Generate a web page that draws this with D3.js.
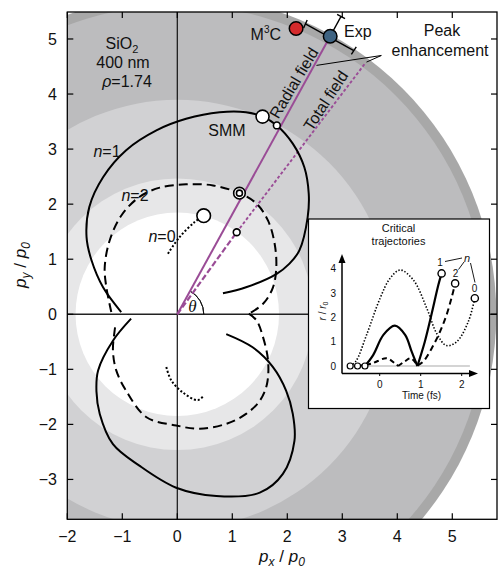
<!DOCTYPE html>
<html><head><meta charset="utf-8">
<script src="https://cdn.jsdelivr.net/npm/d3@7"></script>
<style>
body{margin:0;background:#fff}
svg{display:block}
text{font-family:"Liberation Sans",Arial,Helvetica,sans-serif;fill:#111}
</style>
</head><body>
<svg id="c" width="498" height="571"></svg>
<script>
// ---------- data ----------
const xTicks = [-2, -1, 0, 1, 2, 3, 4, 5];
const yTicks = [-3, -2, -1, 0, 1, 2, 3, 4, 5];
const bandRadii  = [5.8, 5.62, 3.9, 2.47, 1.85];
const bandColors = ["#a8a8a8", "#bcbcbe", "#d1d1d3", "#e7e7e8", "#ffffff"];

const n1Upper = [[-1.02,0.04],[-1.35,0.49],[-1.56,0.98],[-1.65,1.4],[-1.6,1.95],[-1.35,2.49],[-0.93,2.98],[-0.38,3.34],[0.16,3.55],[0.77,3.67],[1.25,3.67],[1.55,3.59],[1.81,3.43],[2.10,3.10],[2.31,2.67],[2.39,2.19],[2.37,1.76],[2.22,1.16],[2.04,0.92],[1.80,0.73],[1.25,0.49],[0.83,0.38]];
const n1Lower = [[-0.84,-0.08],[-1.17,-0.48],[-1.44,-1.02],[-1.47,-1.4],[-1.41,-1.81],[-1.17,-2.36],[-0.69,-2.75],[-0.02,-3.15],[0.71,-3.30],[1.50,-3.24],[1.92,-2.90],[2.13,-2.30],[2.10,-1.81],[1.98,-1.39],[1.74,-0.96],[1.37,-0.6],[0.89,-0.36]];
const n2Upper = [[-1.2,0.04],[-1.29,0.49],[-1.32,0.85],[-1.23,1.34],[-1.02,1.79],[-0.69,2.13],[-0.32,2.3],[0.16,2.36],[0.65,2.34],[1.13,2.2],[1.44,2.01],[1.65,1.70],[1.77,1.28],[1.80,0.85],[1.74,0.49],[1.56,0.19],[1.30,0.01]];
const n2Lower = [[1.30,0.01],[1.44,-0.11],[1.56,-0.42],[1.65,-0.84],[1.63,-1.27],[1.50,-1.57],[1.25,-1.81],[0.89,-1.99],[0.41,-2.08],[-0.02,-2.02],[-0.56,-1.87],[-0.93,-1.39],[-1.11,-1.02],[-1.17,-0.66],[-1.14,-0.3],[-1.12,-0.17]];
const n0Upper = [[-0.17,1.10],[0.04,1.40],[0.31,1.67],[0.48,1.79]];
const n0Lower = [[-0.2,-0.96],[-0.11,-1.2],[0.1,-1.42],[0.37,-1.56],[0.48,-1.48]];

const openCircles = [ // [px, py, radius(px)]
  [1.55,3.59,6.5],[1.81,3.43,3.4],[1.13,2.2,5.8],[1.13,2.2,3.0],[0.48,1.79,6.8],[1.08,1.49,3.4]
];
const expPoint = [2.78, 5.05];
const m3cPoint = [2.16, 5.19];
const totalEnd = [3.41, 4.55];
const totalBreak = [1.08, 1.49];
const expAngleErr = 5;      // degrees
const expRadialErr = 0.41;  // outward, units

// inset: critical trajectories  [time fs, r/r0]
const insetXTicks = [0, 1, 2];
const insetYTicks = [0, 1, 2, 3, 4];
const trajN0 = [[-0.72,0],[-0.58,0.2],[-0.32,1.28],[0.01,2.79],[0.25,3.6],[0.5,3.95],[0.82,3.54],[1.15,2.37],[1.39,1.34],[1.63,0.84],[1.88,1.0],[2.16,1.82],[2.32,2.79]];
const trajN1a = [[-0.36,0],[-0.16,0.45],[0.09,1.28],[0.37,1.66],[0.62,1.28],[0.78,0.59],[0.92,0]];
const trajN1b = [[0.92,0],[1.1,1.0],[1.27,2.17],[1.43,3.33],[1.51,3.81]];
const trajN2a = [[-0.54,0],[-0.2,0.1],[0.17,0.32],[0.37,0.11],[0.45,0]];
const trajN2b = [[0.45,0],[0.62,0.2],[0.76,0.32],[0.92,0.02]];
const trajN2c = [[0.92,0.02],[1.06,0.18],[1.27,0.73],[1.47,1.41],[1.63,2.1],[1.76,2.85],[1.84,3.40]];
const insetStarts = [-0.72, -0.54, -0.36];

// ---------- layout ----------
const svg = d3.select("#c");
const L = 67.3, R = 497, T = 12, B = 519.3;
const x = d3.scaleLinear().domain([-2, 5.813]).range([L, R]);
const y = d3.scaleLinear().domain([-3.724, 5.49]).range([B, T]);
const ux = v => x(v) - x(0);
const purple = "#9a4c96";

svg.append("defs").append("clipPath").attr("id","clip")
  .append("rect").attr("x",L).attr("y",T).attr("width",R-L).attr("height",B-T);
const g = svg.append("g").attr("clip-path","url(#clip)");

// bands
bandRadii.forEach((r,i)=>{
  g.append("circle").attr("cx",x(0)).attr("cy",y(0)).attr("r",ux(r)).attr("fill",bandColors[i]);
});

// zero axes
g.append("line").attr("x1",x(0)).attr("x2",x(0)).attr("y1",T).attr("y2",B).attr("stroke","#111").attr("stroke-width",1.2);
g.append("line").attr("x1",L).attr("x2",R).attr("y1",y(0)).attr("y2",y(0)).attr("stroke","#222").attr("stroke-width",1.5);

// theta arc
const th = Math.atan2(expPoint[1], expPoint[0]);
const arc = d3.arc().innerRadius(26.5).outerRadius(26.5).startAngle(Math.PI/2 - th).endAngle(Math.PI/2);
g.append("path").attr("d",arc()).attr("transform",`translate(${x(0)},${y(0)})`).attr("fill","none").attr("stroke","#111").attr("stroke-width",1);
g.append("text").attr("x",192.5).attr("y",312).attr("font-size",17).attr("font-style","italic")
  .attr("text-anchor","middle").style("font-family","'Liberation Serif','DejaVu Serif',serif").text("θ");

// field lines
g.append("line").attr("x1",x(0)).attr("y1",y(0)).attr("x2",x(totalBreak[0])).attr("y2",y(totalBreak[1]))
  .attr("stroke",purple).attr("stroke-width",2.2).attr("stroke-dasharray","6,2.5");
g.append("line").attr("x1",x(totalBreak[0])).attr("y1",y(totalBreak[1])).attr("x2",x(totalEnd[0])).attr("y2",y(totalEnd[1]))
  .attr("stroke",purple).attr("stroke-width",1.9).attr("stroke-dasharray","3,2.2");
g.append("line").attr("x1",x(0)).attr("y1",y(0)).attr("x2",x(expPoint[0])).attr("y2",y(expPoint[1]))
  .attr("stroke",purple).attr("stroke-width",2);

// curves
const line = d3.line().x(d=>x(d[0])).y(d=>y(d[1])).curve(d3.curveCatmullRom.alpha(0.5));
function curve(data, dash){
  g.append("path").attr("d",line(data)).attr("fill","none").attr("stroke","#000")
   .attr("stroke-width",2).attr("stroke-dasharray",dash||null);
}
curve(n1Upper); curve(n1Lower);
curve(n2Upper,"9,5"); curve(n2Lower,"9,5");
curve(n0Upper,"2,2"); curve(n0Lower,"2,2");

// open circles
openCircles.forEach(c=>{
  g.append("circle").attr("cx",x(c[0])).attr("cy",y(c[1])).attr("r",c[2])
   .attr("fill","#fff").attr("stroke","#000").attr("stroke-width",1.6);
});

// Exp error bars
const rE = Math.hypot(expPoint[0], expPoint[1]);
const aE = Math.atan2(expPoint[1], expPoint[0]);
function pt(r,a){return [x(r*Math.cos(a)), y(r*Math.sin(a))];}
const eb = g.append("g").attr("stroke","#000").attr("stroke-width",1.4);
const a1 = aE - expAngleErr*Math.PI/180, a2 = aE + expAngleErr*Math.PI/180;
const P1 = pt(rE,a1), P2 = pt(rE,a2);
eb.append("line").attr("x1",P1[0]).attr("y1",P1[1]).attr("x2",P2[0]).attr("y2",P2[1]);
[a1,a2].forEach(a=>{
  const q1 = pt(rE-0.08,a), q2 = pt(rE+0.08,a);
  eb.append("line").attr("x1",q1[0]).attr("y1",q1[1]).attr("x2",q2[0]).attr("y2",q2[1]);
});
const Po = pt(rE+expRadialErr, aE), Pc = pt(rE, aE);
eb.append("line").attr("x1",Pc[0]).attr("y1",Pc[1]).attr("x2",Po[0]).attr("y2",Po[1]);
{
  const dx = -Math.sin(aE)*4.5, dy = -Math.cos(aE)*4.5;
  eb.append("line").attr("x1",Po[0]-dx).attr("y1",Po[1]-dy).attr("x2",Po[0]+dx).attr("y2",Po[1]+dy);
}
g.append("circle").attr("cx",x(m3cPoint[0])).attr("cy",y(m3cPoint[1])).attr("r",6.8)
  .attr("fill","#d42a2c").attr("stroke","#000").attr("stroke-width",1.5);
g.append("circle").attr("cx",x(expPoint[0])).attr("cy",y(expPoint[1])).attr("r",6.8)
  .attr("fill","#3e6382").attr("stroke","#000").attr("stroke-width",1.5);

// leader lines for Peak enhancement
g.append("path").attr("d",`M${x(2.53)},${y(4.52)}L${x(3.71)},${y(4.70)}L${x(3.44)},${y(4.58)}`)
  .attr("fill","none").attr("stroke","#000").attr("stroke-width",1);

// ---------- frame and ticks ----------
svg.append("rect").attr("x",L).attr("y",T).attr("width",R-L).attr("height",B-T)
  .attr("fill","none").attr("stroke","#000").attr("stroke-width",1.3);
const tk = svg.append("g").attr("stroke","#000").attr("stroke-width",1.2);
xTicks.forEach(v=>{
  tk.append("line").attr("x1",x(v)).attr("x2",x(v)).attr("y1",B).attr("y2",B-6);
  tk.append("line").attr("x1",x(v)).attr("x2",x(v)).attr("y1",T).attr("y2",T+6);
});
yTicks.forEach(v=>{
  tk.append("line").attr("x1",L).attr("x2",L+6).attr("y1",y(v)).attr("y2",y(v));
  tk.append("line").attr("x1",R).attr("x2",R-6).attr("y1",y(v)).attr("y2",y(v));
});
const fmt = v => (v<0?"\u2212":"")+Math.abs(v);
xTicks.forEach(v=>{
  svg.append("text").attr("x",x(v)).attr("y",542).attr("font-size",16).attr("text-anchor","middle").text(fmt(v));
});
yTicks.forEach(v=>{
  svg.append("text").attr("x",57).attr("y",y(v)+5.8).attr("font-size",16).attr("text-anchor","end").text(fmt(v));
});

// axis titles
function pLabel(sel, sub){
  sel.append("tspan").attr("font-style","italic").text("p");
  sel.append("tspan").attr("font-style","italic").attr("font-size",12).attr("dy",4).text(sub);
  sel.append("tspan").attr("dy",-4).text(" / ");
  sel.append("tspan").attr("font-style","italic").text("p");
  sel.append("tspan").attr("font-style","italic").attr("font-size",12).attr("dy",4).text("0");
}
pLabel(svg.append("text").attr("x",282).attr("y",562).attr("font-size",17).attr("text-anchor","middle"), "x");
pLabel(svg.append("text").attr("transform","translate(26,265) rotate(-90)").attr("font-size",17).attr("text-anchor","middle"), "y");

// ---------- annotations ----------
const t1 = svg.append("text").attr("x",122).attr("y",49).attr("font-size",16).attr("text-anchor","middle");
t1.append("tspan").text("SiO");
t1.append("tspan").attr("font-size",11).attr("dy",4).text("2");
svg.append("text").attr("x",123).attr("y",67.5).attr("font-size",16).attr("text-anchor","middle").text("400 nm");
const t3 = svg.append("text").attr("x",127).attr("y",87).attr("font-size",16).attr("text-anchor","middle");
t3.append("tspan").attr("font-style","italic").text("ρ");
t3.append("tspan").text("=1.74");
const m3 = svg.append("text").attr("x",281).attr("y",40).attr("font-size",16).attr("text-anchor","end");
m3.append("tspan").text("M");
m3.append("tspan").attr("font-size",10).attr("dy",-7).text("3");
m3.append("tspan").attr("dy",7).text("C");
svg.append("text").attr("x",344).attr("y",37).attr("font-size",16).text("Exp");
svg.append("text").attr("x",442).attr("y",36).attr("font-size",16).attr("text-anchor","middle").text("Peak");
svg.append("text").attr("x",440).attr("y",56).attr("font-size",16).attr("text-anchor","middle").text("enhancement");
svg.append("text").attr("transform",`translate(${x(2.12)},${y(4.2)}) rotate(-59)`).attr("font-size",16)
  .attr("text-anchor","middle").attr("dy",5.5).text("Radial field");
svg.append("text").attr("transform",`translate(${x(2.7)},${y(3.88)}) rotate(-57)`).attr("font-size",16)
  .attr("text-anchor","middle").attr("dy",5.5).text("Total field");
svg.append("text").attr("x",227).attr("y",135.5).attr("font-size",16).attr("text-anchor","middle").text("SMM");
function nLab(px,py,val){
  const t = svg.append("text").attr("x",px).attr("y",py).attr("font-size",16).attr("text-anchor","middle");
  t.append("tspan").attr("font-style","italic").text("n");
  t.append("tspan").text("="+val);
}
nLab(107,157,1); nLab(135,200.5,2); nLab(162,242,0);

// ---------- inset ----------
const ins = svg.append("g");
ins.append("rect").attr("x",308.5).attr("y",219).attr("width",181).attr("height",189.5)
  .attr("fill","#fff").attr("stroke","#000").attr("stroke-width",1.2);
const ix = d3.scaleLinear().domain([0,2]).range([379.7,461.7]);
const iy = d3.scaleLinear().domain([0,4]).range([366,268.8]);
ins.append("text").attr("x",398.5).attr("y",232).attr("font-size",11).attr("text-anchor","middle").text("Critical");
ins.append("text").attr("x",398.5).attr("y",245).attr("font-size",11).attr("text-anchor","middle").text("trajectories");
// baseline
ins.append("line").attr("x1",ix(-0.8)).attr("x2",ix(2.2)).attr("y1",iy(0)).attr("y2",iy(0)).attr("stroke","#aaa").attr("stroke-width",1.2);
// axes
const ax0 = 342, ay0 = 373.5;
ins.append("line").attr("x1",ax0).attr("x2",ax0).attr("y1",ay0).attr("y2",262).attr("stroke","#000").attr("stroke-width",1.5);
ins.append("path").attr("d",`M${ax0-3.5},${263}L${ax0},${254}L${ax0+3.5},${263}Z`).attr("fill","#000");
ins.append("line").attr("x1",ax0).attr("x2",470).attr("y1",ay0).attr("y2",ay0).attr("stroke","#000").attr("stroke-width",1.5);
ins.append("path").attr("d",`M469,${ay0-3.5}L478,${ay0}L469,${ay0+3.5}Z`).attr("fill","#000");
insetXTicks.forEach(v=>{
  ins.append("line").attr("x1",ix(v)).attr("x2",ix(v)).attr("y1",ay0).attr("y2",ay0+2.5).attr("stroke","#000");
  ins.append("text").attr("x",ix(v)).attr("y",388).attr("font-size",10).attr("text-anchor","middle").text(v);
});
insetYTicks.forEach(v=>{
  ins.append("text").attr("x",336).attr("y",iy(v)+3.5).attr("font-size",10).attr("text-anchor","end").text(v);
});
ins.append("text").attr("x",421.5).attr("y",399).attr("font-size",10).attr("text-anchor","middle").text("Time (fs)");
{
  const t = ins.append("text").attr("transform","translate(326,311) rotate(-90)").attr("font-size",10).attr("text-anchor","middle");
  t.append("tspan").attr("font-style","italic").text("r");
  t.append("tspan").text(" / ");
  t.append("tspan").attr("font-style","italic").text("r");
  t.append("tspan").attr("font-size",7).attr("dy",2).text("0");
}
const iline = d3.line().x(d=>ix(d[0])).y(d=>iy(d[1])).curve(d3.curveCatmullRom.alpha(0.5));
function icurve(data,w,dash){
  ins.append("path").attr("d",iline(data)).attr("fill","none").attr("stroke","#000")
    .attr("stroke-width",w).attr("stroke-dasharray",dash||null);
}
icurve(trajN0,1.6,"1.4,1.8");
icurve(trajN1a,2.2); icurve(trajN1b,2.2);
icurve(trajN2a,2,"5,3.5"); icurve(trajN2b,2,"5,3.5"); icurve(trajN2c,2,"6,4");
insetStarts.forEach(t=>{
  ins.append("circle").attr("cx",ix(t)).attr("cy",iy(0)).attr("r",3).attr("fill","#fff").attr("stroke","#000").attr("stroke-width",1.2);
});
[trajN1b[trajN1b.length-1], trajN2c[trajN2c.length-1], trajN0[trajN0.length-1]].forEach(d=>{
  ins.append("circle").attr("cx",ix(d[0])).attr("cy",iy(d[1])).attr("r",3.6).attr("fill","#fff").attr("stroke","#000").attr("stroke-width",1.4);
});
ins.append("text").attr("x",440).attr("y",266).attr("font-size",10).attr("text-anchor","middle").text("1");
ins.append("text").attr("x",455.5).attr("y",277).attr("font-size",10).attr("text-anchor","middle").text("2");
ins.append("text").attr("x",474.5).attr("y",292).attr("font-size",10).attr("text-anchor","middle").text("0");
ins.append("text").attr("x",467).attr("y",262).attr("font-size",11).attr("font-style","italic").attr("text-anchor","middle").text("n");
const ll = ins.append("g").attr("stroke","#000").attr("stroke-width",0.9);
ll.append("line").attr("x1",445).attr("y1",261.5).attr("x2",462).attr("y2",258);
ll.append("line").attr("x1",464).attr("y1",262).attr("x2",458.5).attr("y2",269.5);
ll.append("line").attr("x1",470.5).attr("y1",263).attr("x2",475).attr("y2",282.5);
</script>
</body></html>
